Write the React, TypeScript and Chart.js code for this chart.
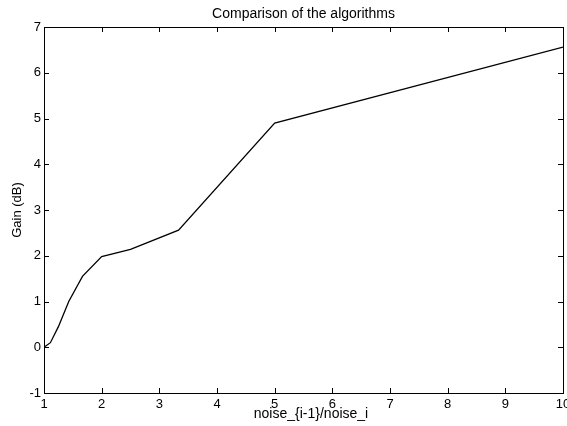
import React, { useEffect, useRef } from "react";
import { Chart, registerables } from "chart.js";

Chart.register(...registerables);

const chartTitle = "Comparison of the algorithms";
const xAxisTitle = "noise_{i-1}/noise_i";
const yAxisTitle = "Gain (dB)";
const noiseRatio = [1, 1.111, 1.25, 1.429, 1.667, 2, 2.5, 3.333, 5, 10];
const gainDb = [0, 0.1, 0.45, 1.0, 1.55, 1.98, 2.14, 2.56, 4.9, 6.56];
const xTicks = [1, 2, 3, 4, 5, 6, 7, 8, 9, 10];
const yTicks = [-1, 0, 1, 2, 3, 4, 5, 6, 7];

const FONT = "'Liberation Sans', Arial, Helvetica, sans-serif";

const boxPlugin = {
  id: "matlabBox",
  afterDraw(chart: any) {
    const { ctx, chartArea: a, scales } = chart;
    const xs = scales.x;
    const ys = scales.y;
    ctx.save();
    ctx.strokeStyle = "#000";
    ctx.lineWidth = 1;
    ctx.strokeRect(Math.round(a.left) + 0.5, Math.round(a.top) + 0.5, Math.round(a.right - a.left), Math.round(a.bottom - a.top));
    const tl = 5;
    ctx.beginPath();
    for (const v of xTicks) {
      const px = Math.round(xs.getPixelForValue(v)) + 0.5;
      ctx.moveTo(px, a.bottom);
      ctx.lineTo(px, a.bottom - tl);
      ctx.moveTo(px, a.top);
      ctx.lineTo(px, a.top + tl);
    }
    for (const v of yTicks) {
      const py = Math.round(ys.getPixelForValue(v)) + 0.5;
      ctx.moveTo(a.left, py);
      ctx.lineTo(a.left + tl, py);
      ctx.moveTo(a.right, py);
      ctx.lineTo(a.right - tl, py);
    }
    ctx.stroke();

    ctx.fillStyle = "#000";
    ctx.font = `14px ${FONT}`;
    ctx.textAlign = "center";
    ctx.textBaseline = "alphabetic";
    ctx.fillText(chartTitle, (a.left + a.right) / 2, 17.5);

    ctx.font = `14px ${FONT}`;
    ctx.fillText(xAxisTitle, 311, 418);

    ctx.translate(17, (a.top + a.bottom) / 2);
    ctx.rotate(-Math.PI / 2);
    ctx.font = `13px ${FONT}`;
    ctx.textBaseline = "middle";
    ctx.fillText(yAxisTitle, 0, 0);
    ctx.restore();
  },
};

export default function App() {
  const ref = useRef<HTMLCanvasElement | null>(null);
  useEffect(() => {
    if (!ref.current) return;
    const chart = new Chart(ref.current, {
      type: "line",
      data: {
        datasets: [
          {
            data: noiseRatio.map((x, i) => ({ x, y: gainDb[i] })),
            borderColor: "#000",
            borderWidth: 1.3,
            pointRadius: 0,
            tension: 0,
            fill: false,
          },
        ],
      },
      options: {
        responsive: false,
        animation: false,
        layout: { padding: { top: 27, right: 4, bottom: 0, left: 0 } },
        plugins: { legend: { display: false }, tooltip: { enabled: false }, title: { display: false } },
        scales: {
          x: {
            type: "linear",
            min: 1,
            max: 10,
            grid: { display: false, drawTicks: false },
            border: { display: false },
            ticks: { stepSize: 1, color: "#000", font: { family: FONT, size: 13 }, padding: 4, maxRotation: 0 },
            afterFit(s: any) {
              s.height = 33;
              s.paddingLeft = 0;
              s.paddingRight = 0;
            },
          },
          y: {
            type: "linear",
            min: -1,
            max: 7,
            grid: { display: false, drawTicks: false },
            border: { display: false },
            ticks: { stepSize: 1, color: "#000", font: { family: FONT, size: 13 }, padding: 3 },
            afterFit(s: any) {
              s.width = 44;
              s.paddingTop = 0;
              s.paddingBottom = 0;
            },
          },
        },
      },
      plugins: [boxPlugin],
    });
    return () => chart.destroy();
  }, []);
  return (
    <div style={{ position: "absolute", left: 0, top: 0, width: 567, height: 426, background: "#fff" }}>
      <canvas ref={ref} width={567} height={426} />
    </div>
  );
}
